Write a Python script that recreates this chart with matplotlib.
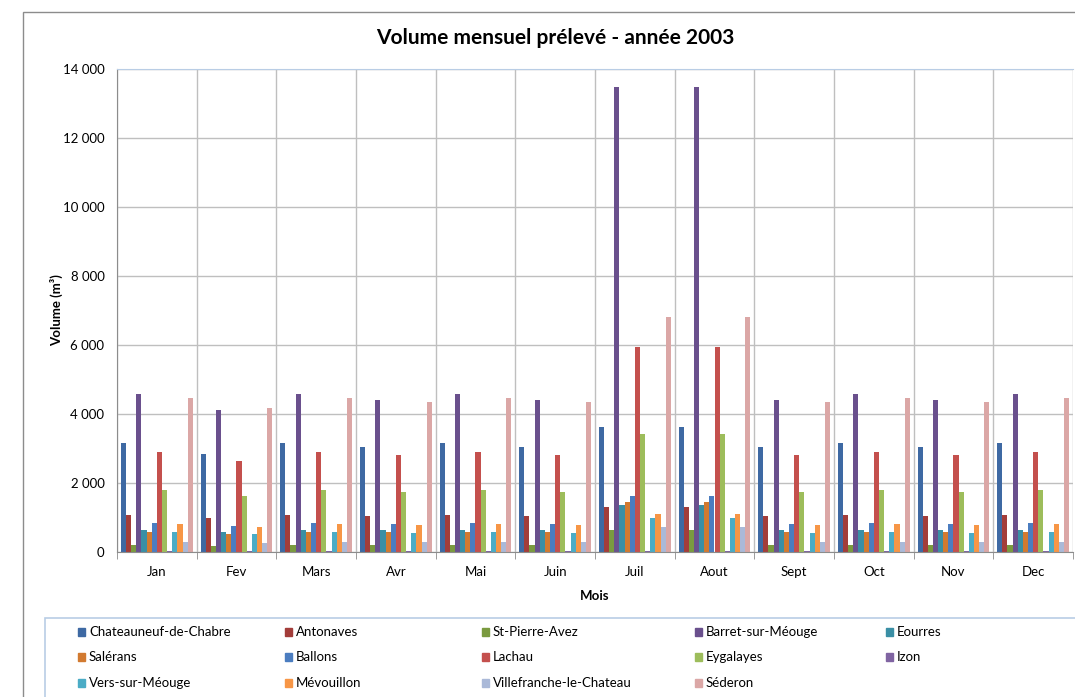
import matplotlib.pyplot as plt
from matplotlib.patches import Rectangle
from matplotlib.ticker import FixedLocator, FuncFormatter

plt.rcParams['font.family'] = ['Lato', 'DejaVu Sans']

mois = ['Jan', 'Fev', 'Mars', 'Avr', 'Mai', 'Juin', 'Juil', 'Aout', 'Sept', 'Oct', 'Nov', 'Dec']

chateauneuf = [3150, 2850, 3150, 3050, 3150, 3050, 3610, 3610, 3050, 3150, 3050, 3150]
antonaves = [1070, 975, 1070, 1035, 1070, 1035, 1310, 1310, 1035, 1070, 1035, 1070]
st_pierre = [210, 185, 210, 200, 210, 200, 630, 630, 200, 210, 200, 210]
barret = [4570, 4120, 4570, 4420, 4570, 4420, 13490, 13490, 4420, 4570, 4420, 4570]
eourres = [650, 590, 650, 630, 650, 630, 1370, 1370, 630, 650, 630, 650]
salerans = [590, 530, 590, 570, 590, 570, 1450, 1450, 570, 590, 570, 590]
ballons = [830, 750, 830, 805, 830, 805, 1615, 1615, 805, 830, 805, 830]
lachau = [2910, 2630, 2910, 2815, 2910, 2815, 5930, 5930, 2815, 2910, 2815, 2910]
eygalayes = [1790, 1620, 1790, 1740, 1790, 1740, 3430, 3430, 1740, 1790, 1740, 1790]
izon = [30, 25, 30, 30, 30, 30, 40, 40, 30, 30, 30, 30]
vers = [580, 515, 580, 560, 580, 560, 990, 990, 560, 580, 560, 580]
mevouillon = [800, 715, 800, 775, 800, 775, 1110, 1110, 775, 800, 775, 800]
villefranche = [290, 265, 290, 280, 290, 280, 725, 725, 280, 290, 280, 290]
sederon = [4460, 4180, 4460, 4350, 4460, 4350, 6820, 6820, 4350, 4460, 4350, 4460]

communes = ['Chateauneuf-de-Chabre', 'Antonaves', 'St-Pierre-Avez', 'Barret-sur-Méouge', 'Eourres',
            'Salérans', 'Ballons', 'Lachau', 'Eygalayes', 'Izon',
            'Vers-sur-Méouge', 'Mévouillon', 'Villefranche-le-Chateau', 'Séderon']
series = [chateauneuf, antonaves, st_pierre, barret, eourres, salerans, ballons, lachau,
          eygalayes, izon, vers, mevouillon, villefranche, sederon]
couleurs = ['#3E69A3', '#A33D3A', '#7A9A3F', '#6A508D', '#3A8FA5', '#D27A30', '#4B7DC0',
            '#C4504D', '#9DBD5B', '#8064A2', '#4BACC6', '#F79646', '#AAB9D8', '#DBA7A6']

W, H = 1075, 697
fig = plt.figure(figsize=(W / 100, H / 100), dpi=100)

# cadre du graphique (coupé à droite et en bas)
fig.patches.append(Rectangle((23 / W, -0.1), 1.2, 1 - 12 / H + 0.1, transform=fig.transFigure,
                             fill=False, edgecolor='#8c8c8c', linewidth=1.0))

ax = fig.add_axes([117 / W, 1 - 552 / H, (1073 - 117) / W, 483 / H])

n = len(series)
w = 1 / (n + 1.5)
x = list(range(len(mois)))
for i, (vals, c) in enumerate(zip(series, couleurs)):
    ax.bar([k + (i - (n - 1) / 2) * w for k in x], vals, width=w, color=c, linewidth=0)

ax.set_xlim(-0.5, len(mois) - 0.5)
ax.set_ylim(0, 14000)
ax.set_yticks(range(0, 14001, 2000))
ax.yaxis.set_major_formatter(FuncFormatter(lambda v, p: f'{int(v):,}'.replace(',', ' ')))
ax.set_xticks(x)
ax.set_xticklabels(mois)
ax.xaxis.set_minor_locator(FixedLocator([k - 0.5 for k in range(len(mois) + 1)]))
ax.tick_params(axis='x', which='major', length=0, labelsize=9.5, pad=10)
ax.tick_params(axis='x', which='minor', length=5, color='#8c8c8c')
ax.tick_params(axis='y', length=0, labelsize=9.5, pad=9)
ax.grid(axis='y', color='#bfbfbf', linewidth=1)
ax.grid(axis='x', which='minor', color='#bfbfbf', linewidth=1)
ax.set_axisbelow(True)
ax.spines['right'].set_visible(False)
ax.spines['top'].set_color('#b9cde5')
ax.spines['left'].set_color('#8c8c8c')
ax.spines['bottom'].set_color('#8c8c8c')

ax.set_xlabel('Mois', fontsize=9.5, fontweight='bold', labelpad=9)
ax.set_ylabel('Volume (m³)', fontsize=9.5, fontweight='bold', labelpad=0)
fig.text(555 / W, 1 - 38 / H, 'Volume mensuel prélevé - année 2003', ha='center', va='center',
         fontsize=15, fontweight='bold')

# légende dessinée à la main, colonnes à largeur fixe
fig.patches.append(Rectangle((45 / W, -0.1), 1.2, 1 - 618 / H + 0.1, transform=fig.transFigure,
                             fill=False, edgecolor='#b9cde5', linewidth=1.2))
col_x = [78, 285, 482, 695, 886]
row_y = [632, 657, 683]
for i, (nom, c) in enumerate(zip(communes, couleurs)):
    cx, cy = col_x[i % 5], row_y[i // 5]
    fig.patches.append(Rectangle((cx / W, (H - cy - 4) / H), 7 / W, 8 / H,
                                 transform=fig.transFigure, color=c))
    fig.text((cx + 11) / W, (H - cy) / H, nom, ha='left', va='center', fontsize=9.5)

fig.savefig('out.png', dpi=100)
